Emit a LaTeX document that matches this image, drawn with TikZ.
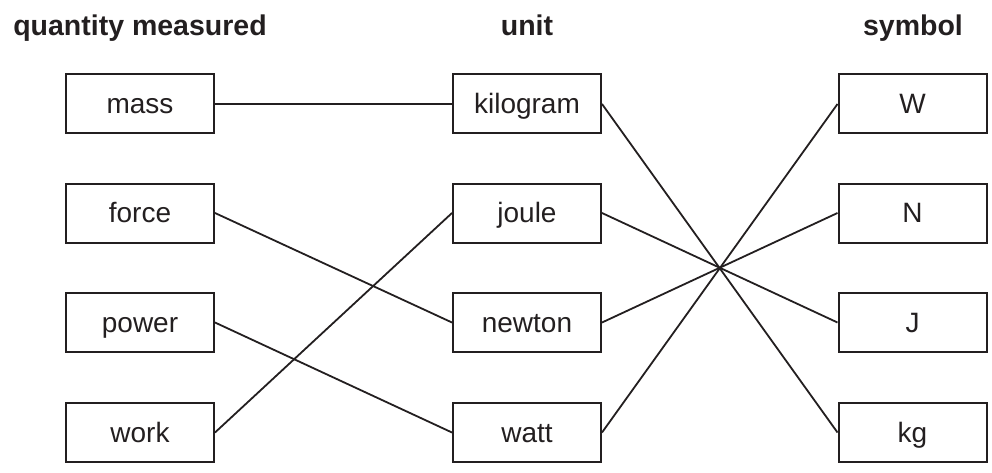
\documentclass[tikz,border=0pt]{standalone}
\usepackage{fontspec}
\setmainfont{Liberation Sans}
\definecolor{ink}{HTML}{231F20}
\begin{document}
\begin{tikzpicture}[x=1pt,y=-1pt,
  box/.style={draw=ink,line width=2pt,minimum width=148pt,minimum height=59pt,inner sep=0pt,
    font=\fontsize{28}{30}\selectfont,text=ink,text height=20pt,text depth=1pt},
  head/.style={anchor=base,font=\fontsize{28.5}{30}\selectfont\bfseries,text=ink,inner sep=0pt},
  link/.style={draw=ink,line width=1.8pt}]
\useasboundingbox (0,0) rectangle (992,473);
\node[head] (h1) at (140,36) {quantity measured};
\node[head] (h2) at (527,36) {unit};
\node[head] (h3) at (913,36) {symbol};
\node[box] (mass) at (140,104) {mass};
\node[box] (force) at (140,213) {force};
\node[box] (power) at (140,322.5) {power};
\node[box] (work) at (140,432.5) {work};
\node[box] (kilogram) at (527,104) {kilogram};
\node[box] (joule) at (527,213) {joule};
\node[box] (newton) at (527,322.5) {newton};
\node[box] (watt) at (527,432.5) {watt};
\node[box] (W) at (912.5,104) {W};
\node[box] (N) at (912.5,213) {N};
\node[box] (J) at (912.5,322.5) {J};
\node[box] (kg) at (912.5,432.5) {kg};
\draw[link] (mass.east) -- (kilogram.west);
\draw[link] (force.east) -- (newton.west);
\draw[link] (power.east) -- (watt.west);
\draw[link] (work.east) -- (joule.west);
\draw[link] (kilogram.east) -- (kg.west);
\draw[link] (joule.east) -- (J.west);
\draw[link] (newton.east) -- (N.west);
\draw[link] (watt.east) -- (W.west);
\end{tikzpicture}
\end{document}
